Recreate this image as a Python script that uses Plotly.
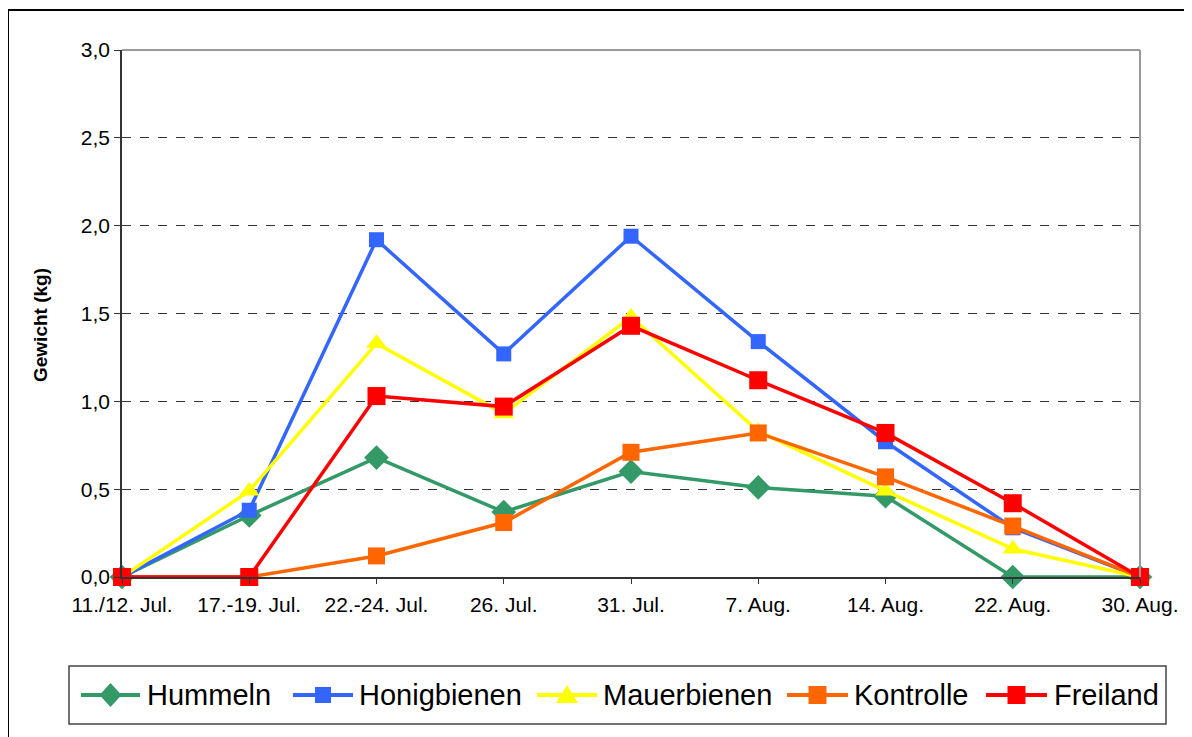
import plotly.graph_objects as go

categories = ["11./12. Jul.", "17.-19. Jul.", "22.-24. Jul.", "26. Jul.", "31. Jul.",
              "7. Aug.", "14. Aug.", "22. Aug.", "30. Aug."]
hummeln = [0, 0.35, 0.68, 0.37, 0.60, 0.51, 0.46, 0, 0]
honigbienen = [0, 0.38, 1.92, 1.27, 1.94, 1.34, 0.77, 0.28, 0]
mauerbienen = [0, 0.49, 1.33, 0.93, 1.48, 0.83, 0.49, 0.16, 0]
kontrolle = [0, 0, 0.12, 0.31, 0.71, 0.82, 0.57, 0.29, 0]
freiland = [0, 0, 1.03, 0.97, 1.43, 1.12, 0.82, 0.42, 0]

series = [
    ("Hummeln", hummeln, "#339966", "diamond", 19),
    ("Honigbienen", honigbienen, "#3366FF", "square", 15),
    ("Mauerbienen", mauerbienen, "#FFFF00", "triangle-up", 18),
    ("Kontrolle", kontrolle, "#FF6600", "square", 17),
    ("Freiland", freiland, "#FF0000", "square", 18),
]

# page offset (body margin 8px)
OFF = 8
W, H = 1184, 729
X0, X1, Y0, Y1 = 122, 1140, 50, 577      # plot area in page pixels
PW, PH = X1 - X0, Y1 - Y0
L, T = X0 - OFF, Y0 - OFF


def px(x):
    return (x - X0) / PW


def py(y):
    return (Y1 - y) / PH


fig = go.Figure()
for name, vals, color, sym, size in series:
    fig.add_trace(go.Scatter(
        x=categories, y=vals, name=name, mode="lines+markers",
        line=dict(color=color, width=3.5),
        marker=dict(symbol=sym, size=size, color=color),
        cliponaxis=False, showlegend=False,
    ))

shapes = [
    dict(type="line", xref="paper", yref="paper", x0=0, x1=1, y0=1, y1=1,
         line=dict(color="#999999", width=2)),
    dict(type="line", xref="paper", yref="paper", x0=1, x1=1, y0=0, y1=1,
         line=dict(color="#999999", width=2)),
    dict(type="rect", xref="paper", yref="paper",
         x0=px(8), x1=px(1196), y0=py(742), y1=py(10),
         line=dict(color="black", width=2), fillcolor="rgba(0,0,0,0)"),
    # legend box
    dict(type="rect", xref="paper", yref="paper",
         x0=px(69), x1=px(1166), y0=py(724), y1=py(666),
         line=dict(color="#444444", width=1.5), fillcolor="white"),
]
annotations = [
    dict(text="<b>Gewicht (kg)</b>", xref="paper", yref="paper",
         x=px(40), y=py(325), textangle=-90,
         showarrow=False, font=dict(size=19), xanchor="center", yanchor="middle"),
]

# manual legend layout (page pixels): line start, line end, text start
legend_pos = [(81, 140, 145), (293, 353, 357), (537, 597, 601), (787, 848, 852), (986, 1047, 1052)]
LY = 695
marker_paths = {
    "diamond": "M -11 0 L 0 12 L 11 0 L 0 -12 Z",
    "triangle-up": "M -11 -8 L 11 -8 L 0 10 Z",
}
for (name, vals, color, sym, size), (l0, l1, tx) in zip(series, legend_pos):
    shapes.append(dict(type="line", xref="paper", yref="paper",
                       x0=px(l0), x1=px(l1), y0=py(LY), y1=py(LY),
                       line=dict(color=color, width=4)))
    cx = (l0 + l1) / 2
    if sym == "square":
        h = 8 if name == "Honigbienen" else 9
        shapes.append(dict(type="rect", xref="paper", yref="paper",
                           xsizemode="pixel", ysizemode="pixel",
                           xanchor=px(cx), yanchor=py(LY),
                           x0=-h, x1=h, y0=-h, y1=h,
                           line=dict(width=0), fillcolor=color))
    else:
        shapes.append(dict(type="path", xref="paper", yref="paper",
                           xsizemode="pixel", ysizemode="pixel",
                           xanchor=px(cx), yanchor=py(LY),
                           path=marker_paths[sym],
                           line=dict(width=0), fillcolor=color))
    annotations.append(dict(text=name, xref="paper", yref="paper",
                            x=px(tx), y=py(LY), xanchor="left", yanchor="middle",
                            showarrow=False, font=dict(size=29, color="black")))

fig.update_layout(
    width=W, height=H,
    margin=dict(l=L, r=W - L - PW, t=T, b=H - T - PH),
    paper_bgcolor="white", plot_bgcolor="white",
    separators=",.",
    font=dict(family="Liberation Sans, Arial, sans-serif", color="black"),
    showlegend=False,
    xaxis=dict(
        type="category", range=[0, 8], showgrid=False,
        showline=True, linecolor="#333333", linewidth=1.5,
        ticks="outside", ticklen=5, tickcolor="#333333",
        tickfont=dict(size=21), zeroline=False, ticklabelstandoff=3,
    ),
    yaxis=dict(
        range=[0, 3], dtick=0.5, tickformat=".1f",
        showgrid=True, gridcolor="#333333", griddash="dash", gridwidth=1,
        showline=True, linecolor="#333333", linewidth=1.5,
        ticks="outside", ticklen=6, tickcolor="#333333",
        tickfont=dict(size=21), zeroline=False,
    ),
    annotations=annotations,
    shapes=shapes,
)

fig.write_html("out.html")
